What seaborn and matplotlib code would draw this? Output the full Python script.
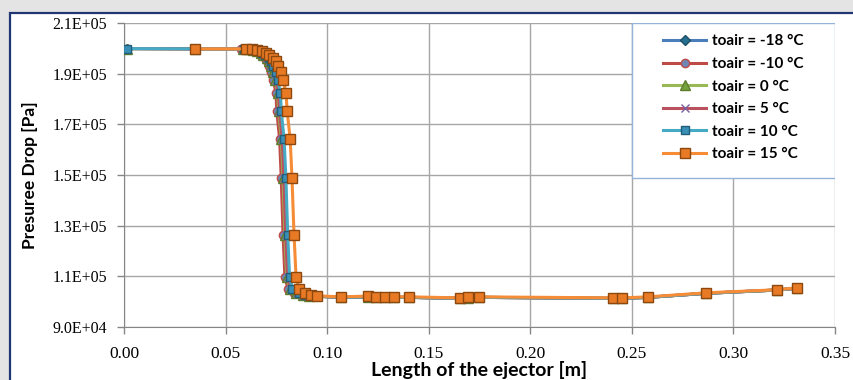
import numpy as np
import pandas as pd
import seaborn as sns
import matplotlib.pyplot as plt
from matplotlib.patches import Rectangle
from matplotlib.ticker import FuncFormatter, MultipleLocator

# valori
labels = ["toair = -18 °C", "toair = -10 °C", "toair = 0 °C",
          "toair = 5 °C", "toair = 10 °C", "toair = 15 °C"]

# tratto iniziale (pressione di ingresso)
x_head = [0.0015, 0.035]
p_head = [199900, 199800]

# zona di caduta di pressione: x diversa per ogni temperatura
x_knee_m18 = [0.0582, 0.0607, 0.0631, 0.0652, 0.0669, 0.0682, 0.0699, 0.0711, 0.0719, 0.0732, 0.0741,
              0.0754, 0.0758, 0.0772, 0.0780, 0.0789, 0.0798, 0.0813, 0.0844, 0.0876, 0.0906]
x_knee_m10 = [0.0578, 0.0603, 0.0626, 0.0647, 0.0664, 0.0677, 0.0694, 0.0706, 0.0713, 0.0726, 0.0735,
              0.0748, 0.0752, 0.0766, 0.0774, 0.0783, 0.0792, 0.0807, 0.0838, 0.0870, 0.0900]
x_knee_0 = [0.0584, 0.0610, 0.0634, 0.0655, 0.0672, 0.0685, 0.0702, 0.0714, 0.0722, 0.0735, 0.0744,
            0.0757, 0.0761, 0.0775, 0.0783, 0.0792, 0.0801, 0.0816, 0.0847, 0.0879, 0.0909]
x_knee_5 = [0.0587, 0.0613, 0.0637, 0.0658, 0.0675, 0.0688, 0.0705, 0.0718, 0.0726, 0.0739, 0.0748,
            0.0761, 0.0765, 0.0779, 0.0787, 0.0796, 0.0805, 0.0820, 0.0851, 0.0883, 0.0913]
x_knee_10 = [0.0590, 0.0617, 0.0641, 0.0663, 0.0681, 0.0694, 0.0712, 0.0725, 0.0733, 0.0747, 0.0756,
             0.0770, 0.0774, 0.0788, 0.0797, 0.0806, 0.0815, 0.0829, 0.0860, 0.0892, 0.0922]
x_knee_15 = [0.0601, 0.0630, 0.0655, 0.0679, 0.0699, 0.0714, 0.0734, 0.0749, 0.0758, 0.0773, 0.0783,
             0.0798, 0.0803, 0.0818, 0.0827, 0.0837, 0.0847, 0.0862, 0.0891, 0.0921, 0.0950]
p_knee = [199800, 199700, 199400, 199000, 198200, 197400, 196200, 195000, 193000, 190700, 187500,
          182400, 175300, 164200, 148800, 126400, 109800, 105100, 103500, 102700, 102300]

# tratto finale (diffusore)
x_tail = [0.1068, 0.1201, 0.1241, 0.1285, 0.1329, 0.1403, 0.1654, 0.1694, 0.1748,
          0.2408, 0.2452, 0.2580, 0.2866, 0.3215, 0.3314]
p_tail = [101700, 101900, 101700, 101700, 101700, 101700, 101300, 101600, 101700,
          101300, 101300, 101700, 103300, 104600, 105300]
p_tail_15 = [101900, 102200, 101900, 101900, 101900, 101900, 101500, 101900, 101900,
             101500, 101500, 101900, 103500, 104700, 105500]

y_ticks = [90000, 110000, 130000, 150000, 170000, 190000, 210000]

knees = [x_knee_m18, x_knee_m10, x_knee_0, x_knee_5, x_knee_10, x_knee_15]

rows = []
for lab, xk in zip(labels, knees):
    if lab.endswith("15 °C"):
        xs = x_head[1:] + xk + x_tail
        ps = p_head[1:] + p_knee + p_tail_15
    else:
        xs = x_head + xk + x_tail
        ps = p_head + p_knee + p_tail
    rows += [(lab, a, b) for a, b in zip(xs, ps)]
df = pd.DataFrame(rows, columns=["serie", "lunghezza", "pressione"])

# stile tipo Excel 2007
line_col = ["#4a7ebb", "#be4b48", "#98b954", "#b9525e", "#46aac5", "#f68c36"]
face_col = ["#24708e", "#6f86b4", "#77a33c", "#7d5fa0", "#3a8fb7", "#e87a26"]
edge_col = ["#1c4f66", "#be4b48", "#5e7d2c", "#7d5fa0", "#215e7a", "#8d4810"]
markers = ["D", "o", "^", "x", "s", "s"]
msizes = [5, 6, 7, 6, 6, 6.5]

fig = plt.figure(figsize=(8.54, 3.8), dpi=100)
fig.patch.set_facecolor("#e4e4e4")
cornice = Rectangle((10 / 854, -0.1), 1.2, (380 - 13) / 380 + 0.1, transform=fig.transFigure,
                    facecolor="white", edgecolor="#1f3670", linewidth=1.6, zorder=-10)
fig.add_artist(cornice)

ax = fig.add_axes([124 / 854, 53 / 380, 711 / 854, 304 / 380])
ax.set_facecolor("white")

for i, lab in enumerate(labels):
    sub = df[df["serie"] == lab]
    sns.lineplot(data=sub, x="lunghezza", y="pressione", ax=ax, sort=False, estimator=None,
                 color=line_col[i], linewidth=2.2, marker=markers[i], markersize=msizes[i],
                 markerfacecolor=face_col[i], markeredgecolor=edge_col[i], markeredgewidth=1.0,
                 label=lab, zorder=3 + i)

ax.set_xlim(0, 0.35)
ax.set_ylim(90000, 210000)
ax.xaxis.set_major_locator(MultipleLocator(0.05))
ax.set_yticks(y_ticks)
ax.xaxis.set_major_formatter(FuncFormatter(lambda v, p: f"{v:.2f}"))
ax.yaxis.set_major_formatter(FuncFormatter(lambda v, p: f"{v:.1E}"))
ax.grid(True, color="#a6a6a6", linewidth=1.0)
ax.set_axisbelow(True)
for s in ["top", "right"]:
    ax.spines[s].set_visible(False)
for s in ["left", "bottom"]:
    ax.spines[s].set_color("#868686")
ax.tick_params(direction="out", length=5, color="#868686", width=1)
ax.tick_params(axis="y", pad=7)
ax.tick_params(axis="x", pad=9)
for t in ax.get_xticklabels():
    t.set_fontfamily("Liberation Serif")
    t.set_fontsize(12.5)
for t in ax.get_yticklabels():
    t.set_fontfamily("Liberation Serif")
    t.set_fontsize(11.5)

ax.set_xlabel("Length of the ejector [m]", fontfamily="Lato", fontweight="bold", fontsize=14, labelpad=-1)
ax.set_ylabel("Presuree Drop [Pa]", fontfamily="Lato", fontweight="bold", fontsize=12.5)
ax.yaxis.set_label_coords(-0.121, 0.5)

# riquadro della legenda (bordo azzurro) e legenda centrata dentro
box = Rectangle((0.7145, 0.490), 0.2855, 0.510, transform=ax.transAxes, facecolor="white",
                edgecolor="#95b3d7", linewidth=1.0, zorder=15)
ax.add_patch(box)
leg = ax.legend(loc="center", bbox_to_anchor=(0.8572, 0.754), frameon=False,
                prop={"family": "Lato", "weight": "bold", "size": 11}, handlelength=2.8,
                labelspacing=0.56, borderpad=0, handletextpad=0.4)
leg.set_zorder(20)

fig.savefig("out.png", dpi=100, facecolor=fig.get_facecolor())
